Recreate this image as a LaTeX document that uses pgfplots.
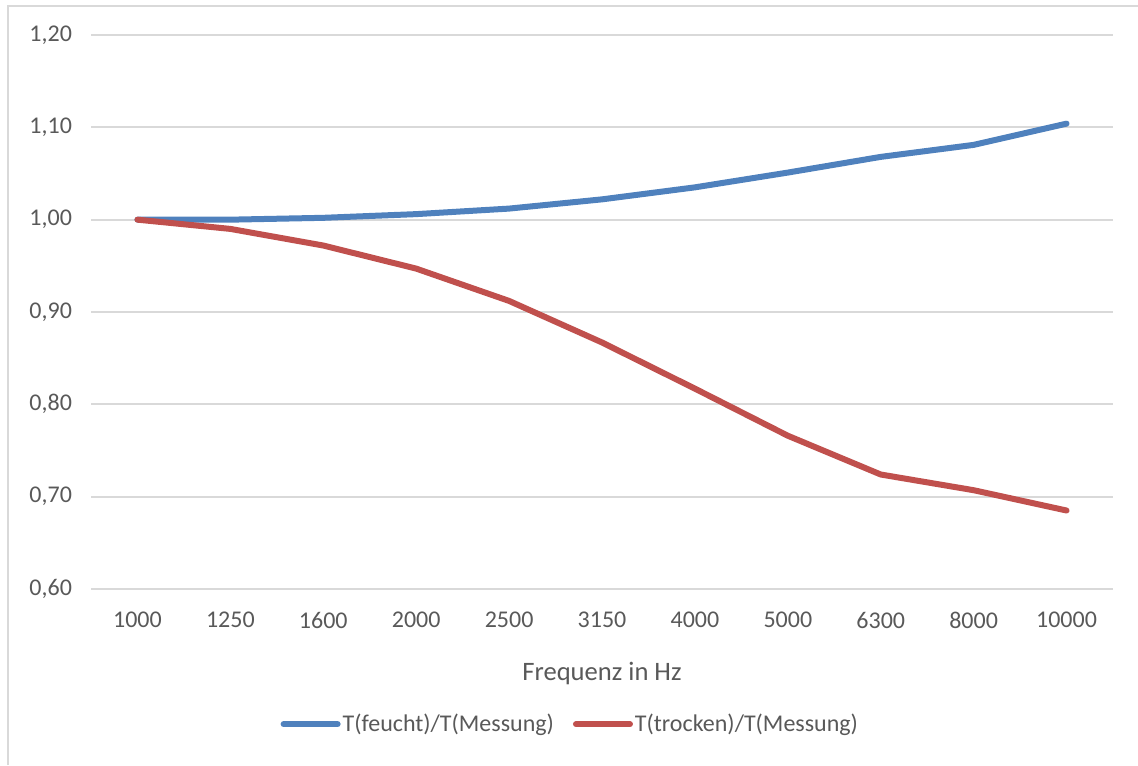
\documentclass[border=0pt]{standalone}
\usepackage{pgfplots}
\pgfplotsset{compat=1.18}
\usepackage{fontspec}
\setmainfont{Carlito}
\definecolor{serieblau}{HTML}{4F81BD}
\definecolor{serierot}{HTML}{C0504D}
\definecolor{gitter}{HTML}{D9D9D9}
\definecolor{textgrau}{HTML}{595959}

% Verhaeltnis der berechneten zur gemessenen Nachhallzeit je Terzband
\pgfplotstableread{
idx ratio
0  1.000
1  1.000
2  1.002
3  1.006
4  1.012
5  1.022
6  1.035
7  1.051
8  1.068
9  1.081
10 1.104
}\feucht
\pgfplotstableread{
idx ratio
0  1.000
1  0.990
2  0.972
3  0.947
4  0.912
5  0.867
6  0.817
7  0.766
8  0.724
9  0.707
10 0.685
}\trocken

\begin{document}
\begin{tikzpicture}
  % Diagrammrahmen (nur oben und links sichtbar)
  \useasboundingbox (0pt,0pt) rectangle (569pt,382.5pt);
  \draw[gitter, line width=1pt] (4pt,0pt) -- (4pt,379.5pt) -- (569pt,379.5pt);
  \begin{axis}[
    at={(45.5pt,88pt)}, anchor=south west,
    scale only axis,
    width=511pt, height=277pt,
    xmin=-0.5, xmax=10.5,
    ymin=0.6, ymax=1.2,
    xtick={0,...,10},
    xticklabels={1000,1250,1600,2000,2500,3150,4000,5000,6300,8000,10000},
    ytick={0.6,0.7,0.8,0.9,1.0,1.1,1.2},
    yticklabel={\pgfmathprintnumber[fixed,fixed zerofill,precision=2,use comma]{\tick}},
    /pgf/number format/assume math mode=true,
    ymajorgrids,
    grid style={gitter, line width=1pt},
    axis x line*=bottom,
    axis y line*=left,
    x axis line style={gitter, line width=1pt, -},
    y axis line style={draw=none},
    major tick length=0pt,
    ticklabel style={font=\fontsize{12}{14}\selectfont, text=textgrau},
    xticklabel style={yshift=-8pt},
    yticklabel style={xshift=-6pt},
    xlabel={Frequenz in Hz},
    xlabel style={font=\fontsize{13.3}{15}\selectfont, text=textgrau, yshift=-10pt},
    legend style={
      at={(0.469,-0.244)}, anchor=center,
      draw=none, fill=none,
      font=\fontsize{12}{14}\selectfont, text=textgrau,
      legend columns=2,
      /tikz/every even column/.append style={column sep=8.5pt},
      nodes={inner xsep=1pt},
      inner sep=0pt,
    },
    legend cell align=left,
    legend image code/.code={\draw[#1, line cap=round] (0pt,0pt) -- (27pt,0pt);},
    clip=false,
  ]
    \addplot[serieblau, line width=3pt, line join=round, line cap=round] table[x=idx,y=ratio] {\feucht};
    \addlegendentry{T(feucht)/T(Messung)}
    \addplot[serierot, line width=3pt, line join=round, line cap=round] table[x=idx,y=ratio] {\trocken};
    \addlegendentry{T(trocken)/T(Messung)}
  \end{axis}
\end{tikzpicture}
\end{document}
